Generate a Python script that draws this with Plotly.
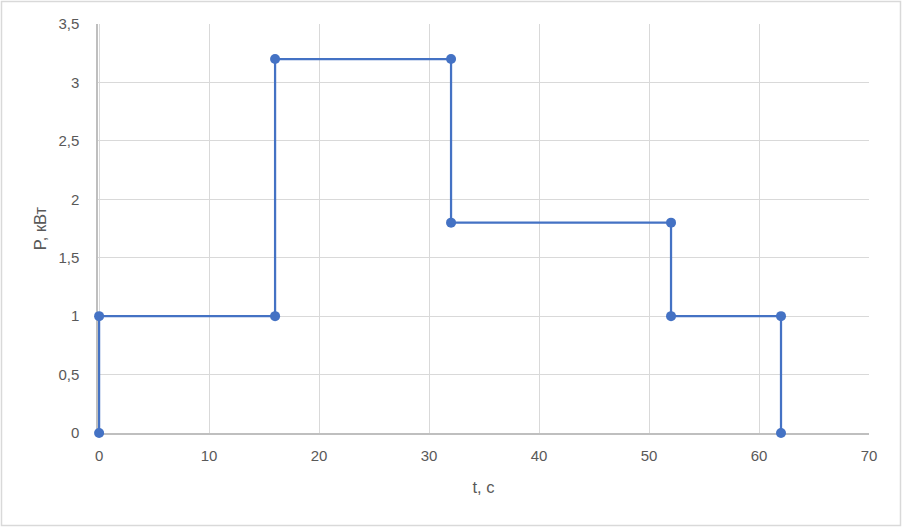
import plotly.graph_objects as go

t_values = [0, 0, 16, 16, 32, 32, 52, 52, 62, 62]
p_values = [0, 1, 1, 3.2, 3.2, 1.8, 1.8, 1, 1, 0]
x_ticks = [0, 10, 20, 30, 40, 50, 60, 70]
y_ticks = [0, 0.5, 1, 1.5, 2, 2.5, 3, 3.5]
y_tick_text = ["0", "0,5", "1", "1,5", "2", "2,5", "3", "3,5"]

fig = go.Figure()
fig.add_trace(go.Scatter(
    x=t_values, y=p_values, mode="lines+markers",
    line=dict(color="#4472C4", width=2.25),
    marker=dict(color="#4472C4", size=10),
    showlegend=False, cliponaxis=False,
))

L, R, T, B = 98, 33, 24, 94
PW, PH = 902 - L - R, 527 - T - B

font_family = "Liberation Sans, Arial, sans-serif"
fig.update_layout(
    width=902, height=527,
    margin=dict(l=L, r=R, t=T, b=B),
    paper_bgcolor="white", plot_bgcolor="white",
    font=dict(family=font_family, size=15, color="#595959"),
    xaxis=dict(
        range=[-0.1, 70], tickvals=x_ticks, ticktext=[str(v) for v in x_ticks],
        showgrid=True, gridcolor="#d9d9d9", gridwidth=1,
        showline=True, linecolor="#bfbfbf", linewidth=1.5,
        zeroline=False, ticks="", ticklabelstandoff=8, layer="below traces",
        title=dict(text="t, с", font=dict(size=16.5, color="#595959"), standoff=19),
    ),
    yaxis=dict(
        range=[0, 3.5], tickvals=y_ticks, ticktext=y_tick_text,
        showgrid=True, gridcolor="#d9d9d9", gridwidth=1,
        showline=True, linecolor="#bfbfbf", linewidth=1.5,
        zeroline=False, ticks="", ticklabelstandoff=14, layer="below traces",
        title=dict(text="P, кВт", font=dict(size=16.5, color="#595959"), standoff=8),
    ),
    shapes=[dict(
        type="rect", xref="paper", yref="paper",
        x0=(1.5 - L) / PW, x1=(900.5 - L) / PW,
        y0=(T + PH - 525.5) / PH, y1=(T + PH - 1.5) / PH,
        line=dict(color="#d9d9d9", width=1.5), layer="below",
    )],
)

fig.write_html("out.html", config={"displayModeBar": False},
               post_script="document.body.style.margin='0px';")
